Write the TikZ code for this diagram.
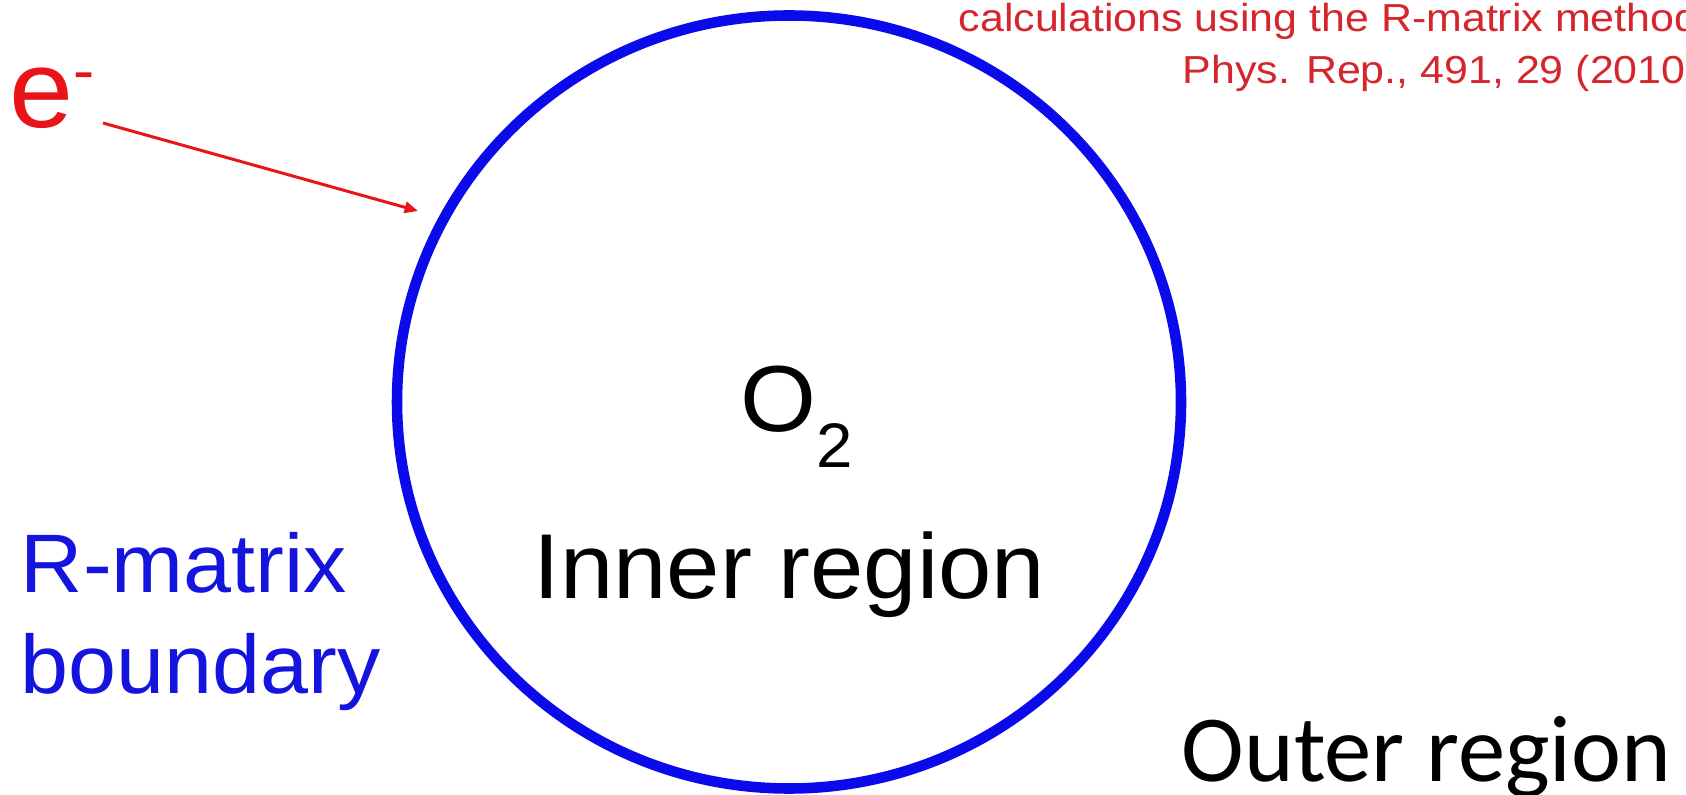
\documentclass[tikz,border=0pt]{standalone}
\usepackage{fontspec}
\setmainfont{Liberation Sans}[FakeStretch=1.04]
\newfontfamily\citefont{Liberation Sans}[FakeStretch=1.1]
\newfontfamily\calfont{Carlito}
\usepackage{tikz}
\usetikzlibrary{arrows.meta, positioning}

\definecolor{eRed}{RGB}{232,20,24}
\definecolor{citeRed}{RGB}{212,38,44}
\definecolor{bndBlue}{RGB}{10,10,235}
\definecolor{txtBlue}{RGB}{20,20,222}

\tikzset{
  lbl/.style={inner sep=0pt, anchor=base west},
  bndline/.style={draw=bndBlue, line width=3pt},
  earrow/.style={draw=eRed, line width=0.85pt, -{Triangle[length=3.8pt, width=3.2pt]}}
}

\begin{document}
\begin{tikzpicture}[x=0.01cm, y=-0.01cm]
\path[use as bounding box, clip] (0,0) rectangle (1686,795);

% boundary of the inner region
\draw[bndline] (789,402) ellipse [x radius=392, y radius=386.5];

% incoming electron
\node[lbl, text=eRed] (elec) at (9,128)
  {\fontsize{31.5pt}{36pt}\selectfont e\raisebox{10.5pt}{\fontsize{17.4pt}{20pt}\selectfont -}};
\coordinate (etail) at (103,123);
\coordinate (ehit) at (418,211);
\draw[earrow] (etail) -- (ehit);

% target and regions
\node[lbl] (mol) at (740,432)
  {\fontsize{26.7pt}{30pt}\selectfont O\raisebox{-10.2pt}{\fontsize{17.9pt}{20pt}\selectfont 2}};
\node[lbl, font=\fontsize{26.2pt}{30pt}\selectfont] (inner) at (533,599) {Inner region};
\node[lbl, text=txtBlue, align=left, font=\fontsize{23.6pt}{28.7pt}\selectfont] (rmat) at (20,693)
  {R-matrix\\boundary};
\node[lbl, font=\calfont\fontsize{26.9pt}{30pt}\selectfont] (outer) at (1181,781) {Outer region};

% reference
\node[lbl, text=citeRed, font=\citefont\fontsize{11.1pt}{13pt}\selectfont] (cite1) at (958,32)
  {calculations using the R-matrix method};
\node[lbl, text=citeRed, font=\citefont\fontsize{11.1pt}{13pt}\selectfont] (cite2) at (1182,84)
  {Phys. Rep., 491, 29 (2010)};
\end{tikzpicture}
\end{document}
